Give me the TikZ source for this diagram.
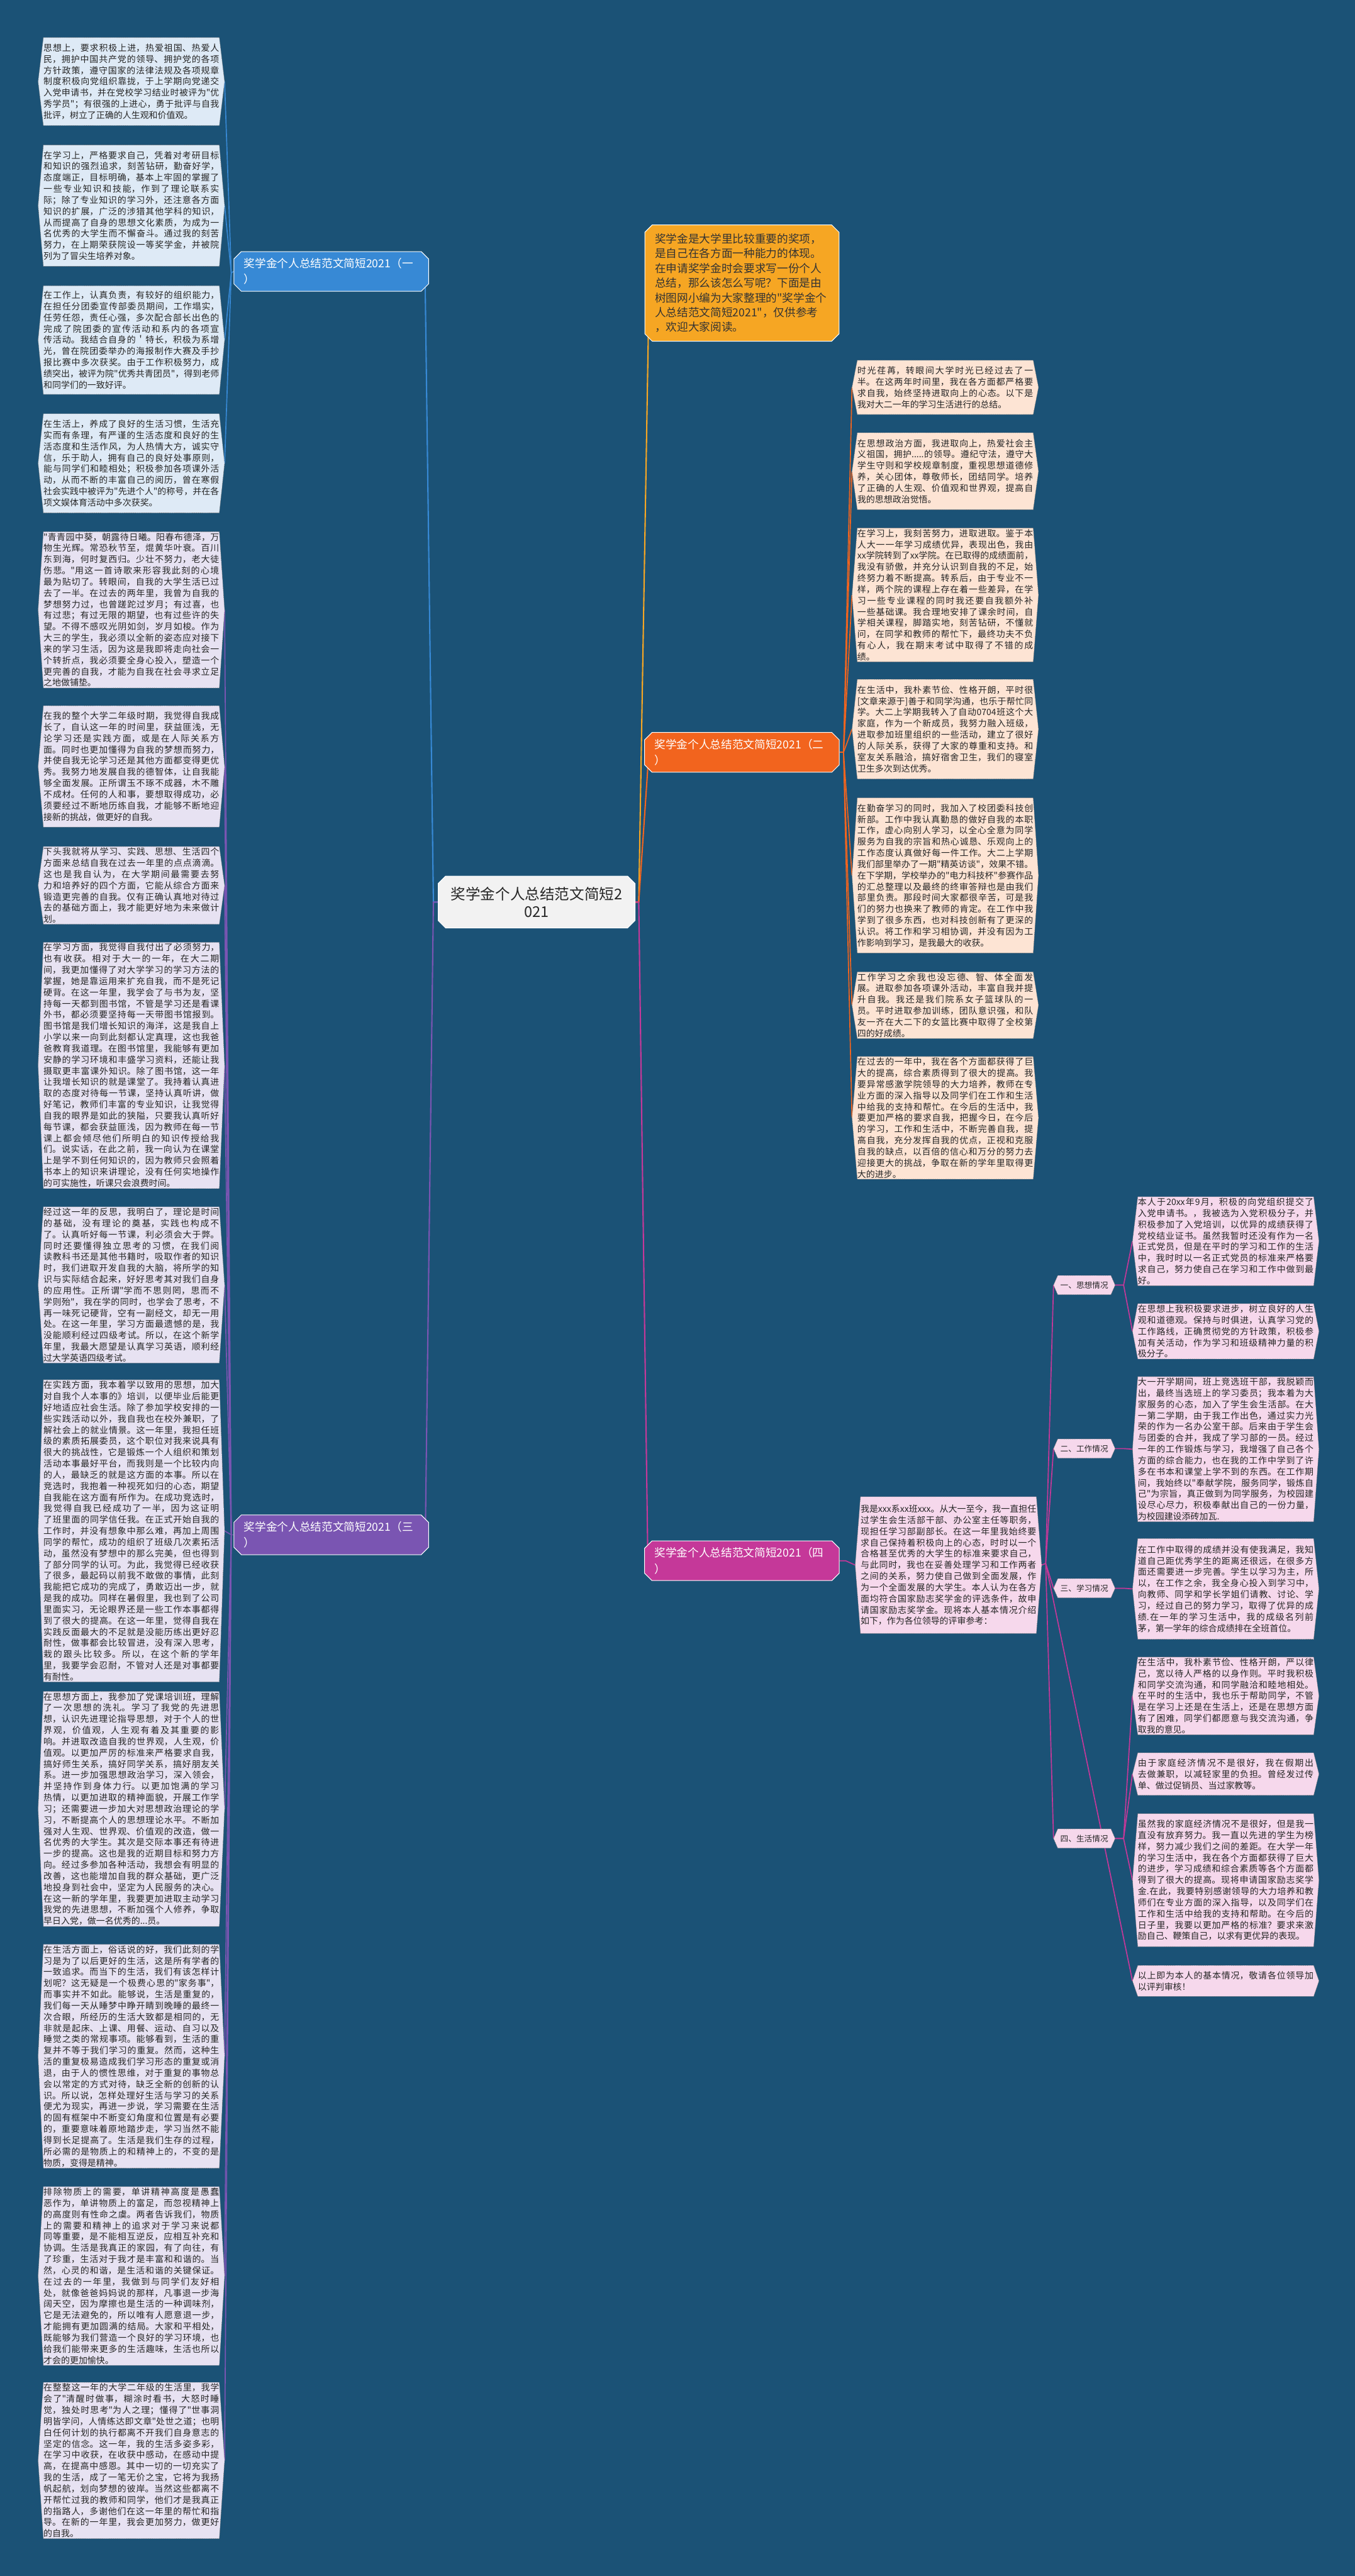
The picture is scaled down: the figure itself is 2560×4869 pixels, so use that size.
\documentclass[tikz,border=0pt]{standalone}
\usepackage{fontspec}
\newfontfamily\cjk{Noto Sans CJK SC}
\XeTeXlinebreaklocale "zh"
\XeTeXlinebreakskip = 0pt plus 1pt
\usetikzlibrary{shapes.misc,backgrounds,calc}
\definecolor{bgblue}{RGB}{27,82,118}
\definecolor{centrefill}{RGB}{242,242,242}
\definecolor{oneblue}{RGB}{55,137,213}
\definecolor{threepurple}{RGB}{122,85,178}
\definecolor{twoorange}{RGB}{242,100,30}
\definecolor{fourmagenta}{RGB}{197,56,153}
\definecolor{introorange}{RGB}{246,166,35}
\definecolor{leafblue}{RGB}{222,234,246}
\definecolor{leaflilac}{RGB}{231,226,242}
\definecolor{leafpeach}{RGB}{253,228,212}
\definecolor{leafpink}{RGB}{246,216,236}
\newcommand*{\leafFont}{\cjk\fontsize{16.6}{21.2}\selectfont}
\newcommand*{\branchFont}{\cjk\fontsize{21}{30}\selectfont}

\begin{document}
\begin{tikzpicture}[x=1pt,y=-1pt,
  branch/.style={chamfered rectangle,chamfered rectangle xsep=7pt,chamfered rectangle ysep=7pt,
    draw=white,line width=1.2,text=white,inner xsep=12,inner ysep=4,text width=330,
    minimum height=75,align=left,font=\branchFont},
  leaf/.style={anchor=north west,text width=332,inner xsep=0,inner ysep=2,align=justify,
    font=\leafFont,text=black!85},
  sub/.style={text width=96,inner xsep=2,minimum height=36,align=center,
    font=\cjk\fontsize{15}{18}\selectfont,text=black!85},
  wire/.style={draw=#1,line width=2.5},
  edge/.style={draw=black!55,densely dotted,line width=0.8}]
\useasboundingbox (0,0) rectangle (2560,4869);

% centre and main branches
\node[chamfered rectangle,chamfered rectangle xsep=7pt,chamfered rectangle ysep=7pt,
  draw=white,line width=1.2,fill=centrefill,text=black!85,text width=334,inner xsep=12,
  minimum height=98,align=center,font=\cjk\fontsize{28}{33}\selectfont]
  (cen) at (1014,1705) {奖学金个人总结范文简短2\\021};
\node[branch,fill=oneblue] (b1) at (626,513) {奖学金个人总结范文简短2021（一\\）};
\node[branch,fill=threepurple] (b3) at (626,2901) {奖学金个人总结范文简短2021（三\\）};
\node[branch,fill=twoorange] (b2) at (1402,1422) {奖学金个人总结范文简短2021（二\\）};
\node[branch,fill=fourmagenta] (b4) at (1402,2950) {奖学金个人总结范文简短2021（四\\）};
\node[chamfered rectangle,chamfered rectangle xsep=7pt,chamfered rectangle ysep=7pt,
  draw=white,line width=1.2,fill=introorange,text=black!80,text width=329,inner xsep=12,
  minimum height=220,align=left,font=\cjk\fontsize{21}{27.8}\selectfont]
  (intro) at (1402,535) {奖学金是大学里比较重要的奖项，\\是自己在各方面一种能力的体现。\\在申请奖学金时会要求写一份个人\\总结，那么该怎么写呢？下面是由\\树图网小编为大家整理的"奖学金个\\人总结范文简短2021"，仅供参考\\，欢迎大家阅读。};

% (一)
\node[leaf,minimum height=166] (a1) at (82,71) {思想上，要求积极上进，热爱祖国、热爱人民，拥护中国共产党的领导、拥护党的各项方针政策，遵守国家的法律法规及各项规章制度积极向党组织靠拢，于上学期向党递交入党申请书，并在党校学习结业时被评为"优秀学员"；有很强的上进心，勇于批评与自我批评，树立了正确的人生观和价值观。};
\node[leaf,minimum height=229] (a2) at (82,274) {在学习上，严格要求自己，凭着对考研目标和知识的强烈追求，刻苦钻研，勤奋好学，态度端正，目标明确，基本上牢固的掌握了一些专业知识和技能，作到了理论联系实际；除了专业知识的学习外，还注意各方面知识的扩展，广泛的涉猎其他学科的知识，从而提高了自身的思想文化素质，为成为一名优秀的大学生而不懈奋斗。通过我的刻苦努力，在上期荣获院设一等奖学金，并被院列为了冒尖生培养对象。};
\node[leaf,minimum height=205] (a3) at (82,540) {在工作上，认真负责，有较好的组织能力，在担任分团委宣传部委员期间，工作塌实，任劳任怨，责任心强，多次配合部长出色的完成了院团委的宣传活动和系内的各项宣传活动。我结合自身的＇特长，积极为系增光，曾在院团委举办的海报制作大赛及手抄报比赛中多次获奖。由于工作积极努力，成绩突出，被评为院"优秀共青团员"，得到老师和同学们的一致好评。};
\node[leaf,minimum height=187] (a4) at (82,782) {在生活上，养成了良好的生活习惯，生活充实而有条理，有严谨的生活态度和良好的生活态度和生活作风，为人热情大方，诚实守信，乐于助人，拥有自己的良好处事原则，能与同学们和睦相处；积极参加各项课外活动，从而不断的丰富自己的阅历，曾在寒假社会实践中被评为"先进个人"的称号，并在各项文娱体育活动中多次获奖。};

% (三)
\node[leaf,minimum height=295] (c1) at (82,1005) {"青青园中葵，朝露待日曦。阳春布德泽，万物生光辉。常恐秋节至，焜黄华叶衰。百川东到海，何时复西归。少壮不努力，老大徒伤悲。"用这一首诗歌来形容我此刻的心境最为贴切了。转眼间，自我的大学生活已过去了一半。在过去的两年里，我曾为自我的梦想努力过，也曾蹉跎过岁月；有过喜，也有过悲；有过无限的期望，也有过些许的失望。不得不感叹光阴如剑，岁月如梭。作为大三的学生，我必须以全新的姿态应对接下来的学习生活，因为这是我即将走向社会一个转折点，我必须要全身心投入，塑造一个更完善的自我，才能为自我在社会寻求立足之地做铺垫。};
\node[leaf,minimum height=229] (c2) at (82,1334) {在我的整个大学二年级时期，我觉得自我成长了，自认这一年的时间里，获益匪浅，无论学习还是实践方面，或是在人际关系方面。同时也更加懂得为自我的梦想而努力，并使自我无论学习还是其他方面都变得更优秀。我努力地发展自我的德智体，让自我能够全面发展。正所谓玉不琢不成器，木不雕不成材。任何的人和事，要想取得成功，必须要经过不断地历练自我，才能够不断地迎接新的挑战，做更好的自我。};
\node[leaf,minimum height=144] (c3) at (82,1600) {下头我就将从学习、实践、思想、生活四个方面来总结自我在过去一年里的点点滴滴。这也是我自认为，在大学期间最需要去努力和培养好的四个方面，它能从综合方面来锻造更完善的自我。仅有正确认真地对待过去的基础方面上，我才能更好地为未来做计划。};
\node[leaf,minimum height=463] (c4) at (82,1781) {在学习方面，我觉得自我付出了必须努力，也有收获。相对于大一的一年，在大二期间，我更加懂得了对大学学习的学习方法的掌握，她是靠运用来扩充自我，而不是死记硬背。在这一年里，我学会了与书为友，坚持每一天都到图书馆，不管是学习还是看课外书，都必须要坚持每一天带图书馆报到。图书馆是我们增长知识的海洋，这是我自上小学以来一向到此刻都认定真理，这也我爸爸教育我道理。在图书馆里，我能够有更加安静的学习环境和丰盛学习资料，还能让我摄取更丰富课外知识。除了图书馆，这一年让我增长知识的就是课堂了。我持着认真进取的态度对待每一节课，坚持认真听讲，做好笔记，教师们丰富的专业知识，让我觉得自我的眼界是如此的狭隘，只要我认真听好每节课，都会获益匪浅，因为教师在每一节课上都会倾尽他们所明白的知识传授给我们。说实话，在此之前，我一向认为在课堂上是学不到任何知识的，因为教师只会照着书本上的知识来讲理论，没有任何实地操作的可实施性，听课只会浪费时间。};
\node[leaf,minimum height=294] (c5) at (82,2281) {经过这一年的反思，我明白了，理论是时间的基础，没有理论的奠基，实践也构成不了。认真听好每一节课，利必须会大于弊。同时还要懂得独立思考的习惯，在我们阅读教科书还是其他书籍时，吸取作者的知识时，我们进取开发自我的大脑，将所学的知识与实际结合起来，好好思考其对我们自身的应用性。正所谓"学而不思则罔，思而不学则殆"，我在学的同时，也学会了思考，不再一味死记硬背，空有一副经文，却无一用处。在这一年里，学习方面最遗憾的是，我没能顺利经过四级考试。所以，在这个新学年里，我最大愿望是认真学习英语，顺利经过大学英语四级考试。};
\node[leaf,minimum height=552] (c6) at (82,2608) {在实践方面，我本着学以致用的思想，加大对自我个人本事的》培训，以便毕业后能更好地适应社会生活。除了参加学校安排的一些实践活动以外，我自我也在校外兼职，了解社会上的就业情景。这一年里，我担任班级的素质拓展委员，这个职位对我来说具有很大的挑战性，它是锻炼一个人组织和策划活动本事最好平台，而我则是一个比较内向的人，最缺乏的就是这方面的本事。所以在竞选时，我抱着一种视死如归的心态，期望自我能在这方面有所作为。在成功竞选时，我觉得自我已经成功了一半，因为这证明了班里面的同学信任我。在正式开始自我的工作时，并没有想象中那么难，再加上周围同学的帮忙，成功的组织了班级几次素拓活动，虽然没有梦想中的那么完美，但也得到了部分同学的认可。为此，我觉得已经收获了很多，最起码以前我不敢做的事情，此刻我能把它成功的完成了，勇敢迈出一步，就是我的成功。同样在暑假里，我也到了公司里面实习，无论眼界还是一些工作本事都得到了很大的提高。在这一年里，觉得自我在实践反面最大的不足就是没能历练出更好忍耐性，做事都会比较冒进，没有深入思考，栽的跟头比较多。所以，在这个新的学年里，我要学会忍耐，不管对人还是对事都要有耐性。};
\node[leaf,minimum height=441] (c7) at (82,3197) {在思想方面上，我参加了党课培训班，理解了一次思想的洗礼。学习了我党的先进思想，认识先进理论指导思想，对于个人的世界观，价值观，人生观有着及其重要的影响。并进取改造自我的世界观，人生观，价值观。以更加严厉的标准来严格要求自我，搞好师生关系，搞好同学关系，搞好朋友关系。进一步加强思想政治学习，深入领会，并坚持作到身体力行。以更加饱满的学习热情，以更加进取的精神面貌，开展工作学习；还需要进一步加大对思想政治理论的学习，不断提高个人的思想理论水平。不断加强对人生观、世界观、价值观的改造，做一名优秀的大学生。其次是交际本事还有待进一步的提高。这也是我的近期目标和努力方向。经过多参加各种活动，我想会有明显的改善，这也能增加自我的群众基础，更广泛地投身到社会中，坚定为人民服务的决心。在这一新的学年里，我要更加进取主动学习我党的先进思想，不断加强个人修养，争取早日入党，做一名优秀的...员。};
\node[leaf,minimum height=421] (c8) at (82,3675) {在生活方面上，俗话说的好，我们此刻的学习是为了以后更好的生活，这是所有学者的一致追求。而当下的生活，我们有该怎样计划呢？这无疑是一个极费心思的"家务事"，而事实并不如此。能够说，生活是重复的，我们每一天从睡梦中睁开睛到晚睡的最终一次合眼，所经历的生活大致都是相同的，无非就是起床、上课、用餐、运动、自习以及睡觉之类的常规事项。能够看到，生活的重复并不等于我们学习的重复。然而，这种生活的重复极易造成我们学习形态的重复或消退，由于人的惯性思维，对于重复的事物总会以常定的方式对待，缺乏全新的创新的认识。所以说，怎样处理好生活与学习的关系便尤为现实，再进一步说，学习需要在生活的固有框架中不断变幻角度和位置是有必要的，重要意味着原地踏步走，学习当然不能得到长足提高了。生活是我们生存的过程，所必需的是物质上的和精神上的，不变的是物质，变得是精神。};
\node[leaf,minimum height=334] (c9) at (82,4133) {排除物质上的需要，单讲精神高度是愚蠢恶作为，单讲物质上的富足，而忽视精神上的高度则有性命之虞。两者告诉我们，物质上的需要和精神上的追求对于学习来说都同等重要，是不能相互逆反，应相互补充和协调。生活是我真正的家园，有了向往，有了珍重，生活对于我才是丰富和和谐的。当然，心灵的和谐，是生活和谐的关键保证。在过去的一年里，我做到与同学们友好相处，就像爸爸妈妈说的那样，凡事退一步海阔天空，因为摩擦也是生活的一种调味剂，它是无法避免的，所以唯有人愿意退一步，才能拥有更加圆满的结局。大家和平相处，既能够为我们营造一个良好的学习环境，也给我们能带来更多的生活趣味，生活也所以才会的更加愉快。};
\node[leaf,minimum height=292] (c10) at (82,4503) {在整整这一年的大学二年级的生活里，我学会了"清醒时做事，糊涂时看书，大怒时睡觉，独处时思考"为人之理；懂得了"世事洞明皆学问，人情练达即文章"处世之道；也明白任何计划的执行都离不开我们自身意志的坚定的信念。这一年，我的生活多姿多彩，在学习中收获，在收获中感动，在感动中提高，在提高中感恩。其中一切的一切充实了我的生活，成了一笔无价之宝，它将为我扬帆起航，划向梦想的彼岸。当然这些都离不开帮忙过我的教师和同学，他们才是我真正的指路人，多谢他们在这一年里的帮忙和指导。在新的一年里，我会更加努力，做更好的自我。};

% (二)
\node[leaf,minimum height=102] (r1) at (1620,681) {时光荏苒，转眼间大学时光已经过去了一半。在这两年时间里，我在各方面都严格要求自我，始终坚持进取向上的心态。以下是我对大二一年的学习生活进行的总结。};
\node[leaf,minimum height=145] (r2) at (1620,818) {在思想政治方面，我进取向上，热爱社会主义祖国，拥护.....的领导。遵纪守法，遵守大学生守则和学校规章制度，重视思想道德修养，关心团体，尊敬师长，团结同学。培养了正确的人生观、价值观和世界观，提高自我的思想政治觉悟。};
\node[leaf,minimum height=252] (r3) at (1620,998) {在学习上，我刻苦努力，进取进取。鉴于本人大一一年学习成绩优异，表现出色，我由xx学院转到了xx学院。在已取得的成绩面前，我没有骄傲，并充分认识到自我的不足，始终努力着不断提高。转系后，由于专业不一样，两个院的课程上存在着一些差异，在学习一些专业课程的同时我还要自我额外补一些基础课。我合理地安排了课余时间，自学相关课程，脚踏实地，刻苦钻研，不懂就问，在同学和教师的帮忙下，最终功夫不负有心人，我在期末考试中取得了不错的成绩。};
\node[leaf,minimum height=188] (r4) at (1620,1284) {在生活中，我朴素节俭、性格开朗，平时很[文章来源于]善于和同学沟通，也乐于帮忙同学。大二上学期我转入了自动0704班这个大家庭，作为一个新成员，我努力融入班级，进取参加班里组织的一些活动，建立了很好的人际关系，获得了大家的尊重和支持。和室友关系融洽，搞好宿舍卫生，我们的寝室卫生多次到达优秀。};
\node[leaf,minimum height=293] (r5) at (1620,1508) {在勤奋学习的同时，我加入了校团委科技创新部。工作中我认真勤恳的做好自我的本职工作，虚心向别人学习，以全心全意为同学服务为自我的宗旨和热心诚恳、乐观向上的工作态度认真做好每一件工作。大二上学期我们部里举办了一期"精英访谈"，效果不错。在下学期，学校举办的"电力科技杯"参赛作品的汇总整理以及最终的终审答辩也是由我们部里负责。那段时间大家都很辛苦，可是我们的努力也换来了教师的肯定。在工作中我学到了很多东西，也对科技创新有了更深的认识。将工作和学习相协调，并没有因为工作影响到学习，是我最大的收获。};
\node[leaf,minimum height=124] (r6) at (1620,1837) {工作学习之余我也没忘德、智、体全面发展。进取参加各项课外活动，丰富自我并提升自我。我还是我们院系女子篮球队的一员。平时进取参加训练，团队意识强，和队友一齐在大二下的女篮比赛中取得了全校第四的好成绩。};
\node[leaf,minimum height=198] (r7) at (1620,1997) {在过去的一年中，我在各个方面都获得了巨大的提高，综合素质得到了很大的提高。我要异常感激学院领导的大力培养，教师在专业方面的深入指导以及同学们在工作和生活中给我的支持和帮忙。在今后的生活中，我要更加严格的要求自我，把握今日，在今后的学习，工作和生活中，不断完善自我，提高自我，充分发挥自我的优点，正视和克服自我的缺点，以百倍的信心和万分的努力去迎接更大的挑战，争取在新的学年里取得更大的进步。};

% (四)
\node[leaf,minimum height=258] (p0) at (1626,2829) {我是xxx系xx班xxx。从大一至今，我一直担任过学生会生活部干部、办公室主任等职务，现担任学习部副部长。在这一年里我始终要求自己保持着积极向上的心态，时时以一个合格甚至优秀的大学生的标准来要求自己，与此同时，我也在妥善处理学习和工作两者之间的关系，努力使自己做到全面发展，作为一个全面发展的大学生。本人认为在各方面均符合国家励志奖学金的评选条件，故申请国家励志奖学金。现将本人基本情况介绍如下，作为各位领导的评审参考：};
\node[sub] (s1) at (2049,2429) {一、思想情况};
\node[sub] (s2) at (2049,2738) {二、工作情况};
\node[sub] (s3) at (2049,3002) {三、学习情况};
\node[sub] (s4) at (2049,3475) {四、生活情况};
\node[leaf,minimum height=166] (q1) at (2150,2262) {本人于20xx年9月，积极的向党组织提交了入党申请书。，我被选为入党积极分子，并积极参加了入党培训，以优异的成绩获得了党校结业证书。虽然我暂时还没有作为一名正式党员，但是在平时的学习和工作的生活中，我时时以一名正式党员的标准来严格要求自己，努力使自己在学习和工作中做到最好。};
\node[leaf,minimum height=100] (q2) at (2150,2464) {在思想上我积极要求进步，树立良好的人生观和道德观。保持与时俱进，认真学习党的工作路线，正确贯彻党的方针政策，积极参加有关活动，作为学习和班级精神力量的积极分子。};
\node[leaf,minimum height=271] (q3) at (2150,2602) {大一开学期间，班上竞选班干部，我脱颖而出，最终当选班上的学习委员；我本着为大家服务的心态，加入了学生会生活部。在大一第二学期，由于我工作出色，通过实力光荣的作为一名办公室干部。后来由于学生会与团委的合并，我成了学习部的一员。经过一年的工作锻炼与学习，我增强了自己各个方面的综合能力，也在我的工作中学到了许多在书本和课堂上学不到的东西。在工作期间，我始终以"奉献学院，服务同学，锻炼自己"为宗旨，真正做到为同学服务，为校园建设尽心尽力，积极奉献出自己的一份力量，为校园建设添砖加瓦.};
\node[leaf,minimum height=190] (q4) at (2150,2908) {在工作中取得的成绩并没有使我满足，我知道自己距优秀学生的距离还很远，在很多方面还需要进一步完善。学生以学习为主，所以，在工作之余，我全身心投入到学习中，向教师、同学和学长学姐们请教、讨论、学习，经过自己的努力学习，取得了优异的成绩.在一年的学习生活中，我的成级名列前茅，第一学年的综合成绩排在全班首位。};
\node[leaf,minimum height=144] (q5) at (2150,3132) {在生活中，我朴素节俭、性格开朗，严以律己，宽以待人严格的以身作则。平时我积极和同学交流沟通，和同学融洽和睦地相处。在平时的生活中，我也乐于帮助同学，不管是在学习上还是在生活上，还是在思想方面有了困难，同学们都愿意与我交流沟通，争取我的意见。};
\node[leaf,minimum height=80] (q6) at (2150,3313) {由于家庭经济情况不是很好，我在假期出去做兼职，以减轻家里的负担。曾经发过传单、做过促销员、当过家教等。};
\node[leaf,minimum height=251] (q7) at (2150,3428) {虽然我的家庭经济情况不是很好，但是我一直没有放弃努力。我一直以先进的学生为榜样，努力减少我们之间的差距。在大学一年的学习生活中，我在各个方面都获得了巨大的进步，学习成绩和综合素质等各个方面都得到了很大的提高。现将申请国家励志奖学金.在此，我要特别感谢领导的大力培养和教师们在专业方面的深入指导，以及同学们在工作和生活中给我的支持和帮助。在今后的日子里，我要以更加严格的标准？要求来激励自己、鞭策自己，以求有更优异的表现。};
\node[leaf,minimum height=58] (q8) at (2150,3715) {以上即为本人的基本情况，敬请各位领导加以评判审核！};

\begin{pgfonlayer}{background}
\fill[bgblue] (0,0) rectangle (2560,4869);
% centre to branches
\coordinate (cl) at (819,1705);
\coordinate (cr) at (1207,1705);
\draw[wire=oneblue] (cen.west) -- (cl) -- ([yshift=8]b1.south east);
\draw[wire=threepurple] (cen.west) -- (cl) -- ([yshift=8]b3.south east);
\draw[wire=introorange] (cen.east) -- (cr) -- ([yshift=6]intro.south west);
\draw[wire=twoorange] (cen.east) -- (cr) -- ([yshift=8]b2.south west);
\draw[wire=fourmagenta] (cen.east) -- (cr) -- ([yshift=8]b4.south west);
% branches to leaves
\coordinate (h1) at (437,516);
\coordinate (h3) at (437,2901);
\coordinate (h2) at (1594,1422);
\coordinate (h4) at (1598,2950);
\coordinate (hp) at (1976,2955);
\draw[wire=oneblue,line width=2] (b1.west) -- (h1);
\foreach \n in {a1,a2,a3,a4} \draw[wire=oneblue,line width=2] (h1) -- ([xshift=10]\n.east);
\draw[wire=threepurple,line width=2] (b3.west) -- (h3);
\foreach \n in {c1,c2,c3,c4,c5,c6,c7,c8,c9,c10} \draw[wire=threepurple,line width=2] (h3) -- ([xshift=10]\n.east);
\draw[wire=twoorange,line width=2] (b2.east) -- (h2);
\foreach \n in {r1,r2,r3,r4,r5,r6,r7} \draw[wire=twoorange,line width=2] (h2) -- ([xshift=-10]\n.west);
\draw[wire=fourmagenta,line width=2] (b4.east) -- (h4) -- ([xshift=-10]p0.west);
\draw[wire=fourmagenta,line width=2] ([xshift=10]p0.east) -- (hp);
\foreach \n in {s1,s2,s3,s4} \draw[wire=fourmagenta,line width=2] (hp) -- ([xshift=-8]\n.west);
\draw[wire=fourmagenta,line width=2] (hp) -- ([xshift=-10]q8.west);
\foreach \s/\q in {s1/q1,s1/q2,s2/q3,s3/q4,s4/q5,s4/q6,s4/q7}
  \draw[wire=fourmagenta,line width=2] ([xshift=8]\s.east) -- ++(16,0) -- ([xshift=-10]\q.west);
% leaf outlines
\foreach \n/\c in {a1/leafblue,a2/leafblue,a3/leafblue,a4/leafblue,
  c1/leaflilac,c2/leaflilac,c3/leaflilac,c4/leaflilac,c5/leaflilac,c6/leaflilac,c7/leaflilac,c8/leaflilac,c9/leaflilac,c10/leaflilac,
  r1/leafpeach,r2/leafpeach,r3/leafpeach,r4/leafpeach,r5/leafpeach,r6/leafpeach,r7/leafpeach,
  p0/leafpink,q1/leafpink,q2/leafpink,q3/leafpink,q4/leafpink,q5/leafpink,q6/leafpink,q7/leafpink,q8/leafpink}
  \draw[edge,fill=\c] (\n.north west) -- (\n.north east) -- ([xshift=10]\n.east) -- (\n.south east)
    -- (\n.south west) -- ([xshift=-10]\n.west) -- cycle;
\foreach \n in {s1,s2,s3,s4}
  \draw[edge,fill=leafpink] (\n.north west) -- (\n.north east) -- ([xshift=8]\n.east) -- (\n.south east)
    -- (\n.south west) -- ([xshift=-8]\n.west) -- cycle;
\end{pgfonlayer}
\end{tikzpicture}
\end{document}
